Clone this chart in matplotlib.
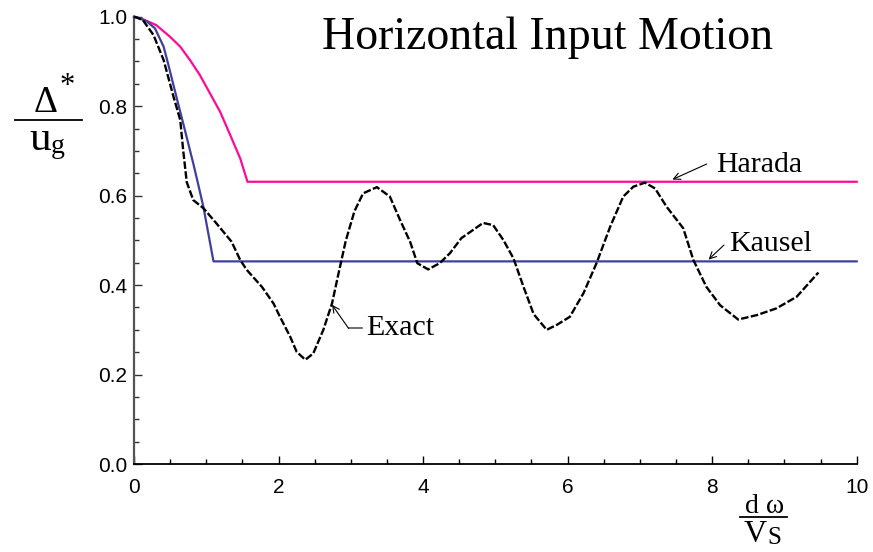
import matplotlib
matplotlib.use("Agg")
import matplotlib.pyplot as plt
from matplotlib.lines import Line2D
from matplotlib.ticker import MultipleLocator, FormatStrFormatter

# Normalised frequency d*omega/Vs and response ratio for each solution
exact_x = [0.00, 0.12, 0.27, 0.41, 0.54, 0.64, 0.68, 0.73, 0.82, 0.96, 1.14,
           1.35, 1.47, 1.56, 1.77, 1.93, 2.02, 2.16, 2.25, 2.37, 2.48, 2.62,
           2.74, 2.83, 2.93, 3.05, 3.17, 3.36, 3.54, 3.68, 3.82, 3.92, 4.07,
           4.23, 4.37, 4.53, 4.69, 4.83, 4.97, 5.11, 5.25, 5.39, 5.53, 5.71,
           5.85, 6.03, 6.22, 6.40, 6.59, 6.77, 6.91, 7.07, 7.21, 7.37, 7.60,
           7.74, 7.92, 8.11, 8.36, 8.62, 8.89, 9.17, 9.47]
exact_y = [1.000, 0.993, 0.959, 0.903, 0.825, 0.769, 0.702, 0.630, 0.590,
           0.572, 0.538, 0.497, 0.456, 0.434, 0.396, 0.359, 0.329, 0.285,
           0.251, 0.233, 0.247, 0.300, 0.359, 0.426, 0.499, 0.565, 0.605,
           0.619, 0.598, 0.546, 0.497, 0.449, 0.435, 0.449, 0.471, 0.505,
           0.523, 0.539, 0.534, 0.501, 0.460, 0.396, 0.335, 0.300, 0.311,
           0.329, 0.382, 0.449, 0.531, 0.598, 0.620, 0.629, 0.616, 0.575,
           0.527, 0.456, 0.396, 0.355, 0.323, 0.333, 0.348, 0.374, 0.428]

harada_x = [0.00, 0.13, 0.31, 0.50, 0.64, 0.775, 0.91, 1.05, 1.19, 1.33,
            1.47, 1.57, 10.0]
harada_y = [1.000, 0.994, 0.981, 0.955, 0.933, 0.903, 0.870, 0.829, 0.788,
            0.736, 0.683, 0.631, 0.631]

kausel_x = [0.00, 0.04, 0.18, 0.29, 0.41, 0.47, 0.54, 0.61, 0.68, 0.75,
            0.82, 0.89, 0.96, 1.10, 10.0]
kausel_y = [1.000, 0.999, 0.989, 0.974, 0.933, 0.896, 0.851, 0.806, 0.762,
            0.717, 0.672, 0.624, 0.575, 0.453, 0.453]

x_ticks = [0, 2, 4, 6, 8, 10]
y_ticks = [0.0, 0.2, 0.4, 0.6, 0.8, 1.0]

W, H = 873, 552
fig = plt.figure(figsize=(W / 100, H / 100), dpi=100)
ax = fig.add_axes([134 / W, 1 - 464 / H, (856.7 - 134) / W, (464 - 16.7) / H])


def fx(px):
    return px / W


def fy(py):
    return 1 - py / H


ax.plot(harada_x, harada_y, color="#ff0a96", lw=1.6, clip_on=False, zorder=3)
ax.plot(kausel_x, kausel_y, color="#3f3f9f", lw=1.6, clip_on=False, zorder=3)
ax.plot(exact_x, exact_y, color="black", lw=1.7, dashes=(3.2, 1.0),
        clip_on=False, zorder=4)

ax.set_xlim(0, 10)
ax.set_ylim(0, 1.0)
ax.set_xticks(x_ticks)
ax.set_yticks(y_ticks)
ax.xaxis.set_minor_locator(MultipleLocator(0.5))
ax.yaxis.set_minor_locator(MultipleLocator(0.05))
ax.xaxis.set_major_formatter(FormatStrFormatter("%d"))
ax.yaxis.set_major_formatter(FormatStrFormatter("%.1f"))

for side in ("top", "right"):
    ax.spines[side].set_visible(False)
ax.spines["left"].set_color("#555555")
ax.spines["left"].set_linewidth(1.6)
ax.spines["bottom"].set_color("black")
ax.spines["bottom"].set_linewidth(1.3)

ax.tick_params(axis="both", which="both", direction="in")
ax.tick_params(axis="x", which="major", length=6, width=1.0, pad=10,
               labelsize=15, colors="black")
ax.tick_params(axis="x", which="minor", length=3.5, width=1.0, colors="black")
ax.tick_params(axis="y", which="major", length=6, width=1.0, pad=5,
               labelsize=15, color="#333333", labelcolor="black")
ax.tick_params(axis="y", which="minor", length=3.5, width=1.0, color="#333333")
for lab in ax.get_xticklabels() + ax.get_yticklabels():
    lab.set_family("Liberation Sans")

serif = "Liberation Serif"

# Title
fig.text(fx(548), fy(49), "Horizontal Input Motion", family=serif,
         fontsize=33, ha="center", va="baseline")

# Curve annotations
arrow = dict(arrowstyle="->", color="black", lw=0.8, shrinkA=0, shrinkB=0,
             mutation_scale=12)
ax.annotate("", xy=(7.45, 0.636), xytext=((706.7 - 134) / 72.27, (464 - 164) / 447.3),
            arrowprops=arrow)
fig.text(fx(716), fy(165), "Harada", family=serif, fontsize=21.5,
         ha="left", va="center")

ax.annotate("", xy=(7.95, 0.457), xytext=((724 - 134) / 72.27, (464 - 245) / 447.3),
            arrowprops=arrow)
fig.text(fx(729), fy(244), "Kausel", family=serif, fontsize=21.5,
         ha="left", va="center")

ax.annotate("", xy=(2.74, 0.356), xytext=(2.97, 0.303), arrowprops=arrow)
ax.plot([2.97, 3.15], [0.303, 0.303], color="#555555", lw=1.2, clip_on=False)
fig.text(fx(366), fy(328), "Exact", family=serif, fontsize=21.5,
         ha="left", va="center")

# Vertical axis label: Delta* over u_g
fig.text(fx(46), fy(112), "\u0394", family=serif, fontsize=27,
         ha="center", va="baseline")
fig.text(fx(67), fy(94), "*", family=serif, fontsize=22,
         ha="center", va="baseline")
fig.add_artist(Line2D([fx(15), fx(82)], [fy(119.5), fy(119.5)], color="black", lw=1.3))
fig.text(fx(51), fy(150), "u", family=serif, fontsize=31,
         ha="right", va="baseline")
fig.text(fx(51), fy(153), "g", family=serif, fontsize=20,
         ha="left", va="baseline")

# Horizontal axis label: d omega over V_S
fig.text(fx(765), fy(513), "d \u03c9", family=serif, fontsize=20, ha="center",
         va="baseline")
fig.add_artist(Line2D([fx(740), fx(787)], [fy(517), fy(517)], color="black", lw=1.3))
fig.text(fx(767), fy(542), "V", family=serif, fontsize=23, ha="right",
         va="baseline")
fig.text(fx(767), fy(544), "S", family=serif, fontsize=18, ha="left",
         va="baseline")

fig.savefig("out.png", dpi=100)
